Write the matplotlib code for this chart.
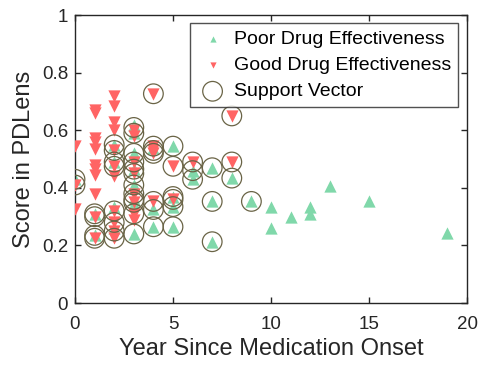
import matplotlib.pyplot as plt

plt.rcParams['font.family'] = ['Liberation Sans', 'DejaVu Sans']

# poor drug effectiveness (green up triangles)
poor_x = [0, 1, 1, 2, 2, 2, 2, 3, 3, 3, 3, 3, 3, 3, 3,
          4, 4, 4, 5, 5, 5, 5, 6, 6, 7, 7, 7, 8, 9,
          10, 10, 11, 12, 12, 13, 15, 19]
poor_y = [0.43, 0.31, 0.235, 0.55, 0.49, 0.335, 0.26, 0.62, 0.59, 0.52, 0.465, 0.41, 0.36, 0.345, 0.24,
          0.54, 0.325, 0.265, 0.545, 0.37, 0.335, 0.265, 0.46, 0.43, 0.47, 0.353, 0.213, 0.434, 0.353,
          0.335, 0.26, 0.30, 0.335, 0.31, 0.405, 0.355, 0.245]

# good drug effectiveness (red down triangles)
good_x = [0, 0, 0,
          1, 1, 1, 1, 1, 1, 1, 1, 1, 1, 1,
          2, 2, 2, 2, 2, 2, 2, 2, 2, 2, 2,
          3, 3, 3, 3, 3, 3, 3, 3,
          4, 4, 4, 4, 4,
          5, 5, 6, 8, 8]
good_y = [0.545, 0.325, 0.41,
          0.67, 0.66, 0.575, 0.56, 0.535, 0.48, 0.465, 0.445, 0.38, 0.30, 0.225,
          0.72, 0.685, 0.63, 0.60, 0.53, 0.475, 0.44, 0.32, 0.28, 0.25, 0.225,
          0.60, 0.58, 0.49, 0.45, 0.38, 0.35, 0.31, 0.29,
          0.727, 0.545, 0.53, 0.52, 0.353,
          0.475, 0.36, 0.49, 0.65, 0.49]

# support vectors (circled points)
sv_x = [0, 0, 1, 1, 1, 1, 2, 2, 2, 2, 2, 2, 2, 2,
        3, 3, 3, 3, 3, 3, 3, 3, 3, 3, 3, 3,
        4, 4, 4, 4, 4, 4, 4, 5, 5, 5, 5, 5, 5,
        6, 6, 6, 7, 7, 7, 8, 8, 8, 9]
sv_y = [0.43, 0.41, 0.31, 0.30, 0.235, 0.225, 0.55, 0.53, 0.49, 0.475, 0.32, 0.28, 0.25, 0.225,
        0.61, 0.59, 0.52, 0.49, 0.465, 0.45, 0.41, 0.38, 0.36, 0.35, 0.31, 0.24,
        0.727, 0.545, 0.53, 0.52, 0.353, 0.325, 0.265, 0.545, 0.475, 0.37, 0.36, 0.335, 0.265,
        0.49, 0.46, 0.43, 0.47, 0.353, 0.213, 0.65, 0.49, 0.434, 0.353]

green = '#80d8aa'
red = '#ff6464'
circ = '#6a6446'
dark = '#262626'

fig = plt.figure(figsize=(4.8, 3.7), dpi=100)
ax = fig.add_axes([0.15625, 0.181, 0.8167, 0.778])

ax.scatter(poor_x, poor_y, s=78, marker='^', color=green, linewidths=0, label='Poor Drug Effectiveness', zorder=2)
ax.scatter(good_x, good_y, s=78, marker='v', color=red, linewidths=0, label='Good Drug Effectiveness', zorder=3)
ax.scatter(sv_x, sv_y, s=200, marker='o', facecolors='none', edgecolors=circ, linewidths=0.9, label='Support Vector', zorder=4)

ax.set_xlim(0, 20)
ax.set_ylim(0, 1)
ax.set_xticks([0, 5, 10, 15, 20])
ax.set_yticks([0, 0.2, 0.4, 0.6, 0.8, 1])
ax.set_yticklabels(['0', '0.2', '0.4', '0.6', '0.8', '1'])
ax.tick_params(direction='in', top=True, right=True, labelsize=13.5, length=4, width=1,
               colors=dark)
ax.tick_params(axis='x', pad=9)
ax.tick_params(axis='y', pad=5)
for sp in ax.spines.values():
    sp.set_linewidth(1.0)
    sp.set_color(dark)
ax.set_xlabel('Year Since Medication Onset', fontsize=17, color=dark, labelpad=4)
ax.set_ylabel('Score in PDLens', fontsize=17, color=dark, labelpad=5)

leg = ax.legend(loc='upper right', bbox_to_anchor=(0.977, 0.972), borderaxespad=0,
                fontsize=14, frameon=True, fancybox=False, edgecolor=dark,
                handletextpad=0.3, borderpad=0.35, labelspacing=0.45, handlelength=1.6)
leg.get_frame().set_linewidth(1.0)
leg.legend_handles[0].set_sizes([20])
leg.legend_handles[1].set_sizes([20])
leg.legend_handles[2].set_sizes([200])

fig.savefig('out.png', dpi=100)
